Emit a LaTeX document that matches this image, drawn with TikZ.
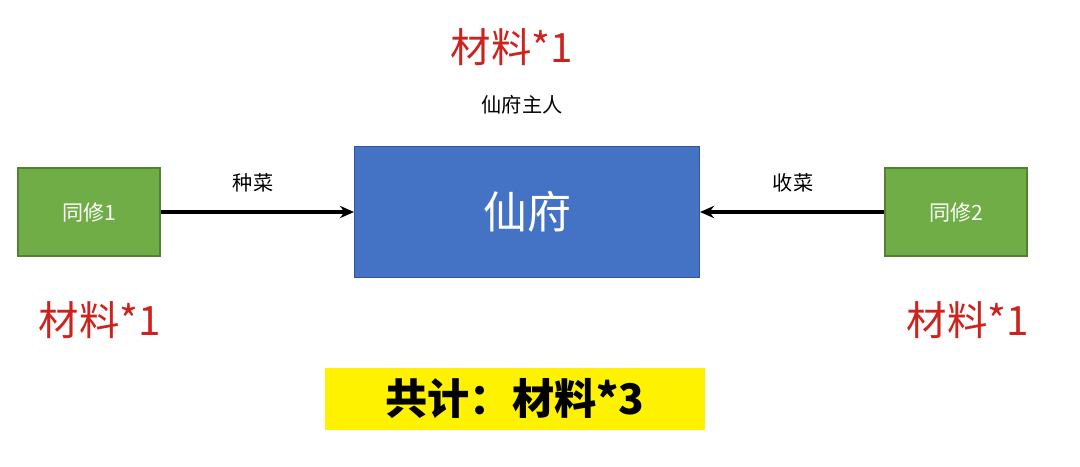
\documentclass[tikz,border=0pt]{standalone}
\usepackage{fontspec}
\setmainfont{Noto Sans CJK SC}
\usetikzlibrary{arrows.meta}
\definecolor{gbox}{RGB}{112,173,71}
\definecolor{gedge}{RGB}{80,130,50}
\definecolor{bbox}{RGB}{68,114,196}
\definecolor{bedge}{RGB}{50,85,150}
\definecolor{redt}{RGB}{205,35,30}
\begin{document}
\begin{tikzpicture}[x=0.02cm,y=-0.02cm,
  green/.style={draw=gedge,fill=gbox,line width=0.6pt,minimum width=142*0.02cm,minimum height=88*0.02cm,text=white,font=\fontsize{12}{14}\selectfont},
  red/.style={text=redt,font=\fontsize{23}{26}\selectfont},
  lab/.style={font=\fontsize{11.5}{13}\selectfont},
  arr/.style={-{Stealth[length=8pt,width=7pt]},line width=2pt}]
\useasboundingbox (0,0) rectangle (1080,467);
\node[green] (a) at (89,212) {同修1};
\node[green] (b) at (956,212) {同修2};
\node[draw=bedge,fill=bbox,line width=0.6pt,minimum width=345*0.02cm,minimum height=131*0.02cm,text=white,font=\fontsize{25}{28}\selectfont] (c) at (527,212) {仙府};
\draw[arr] (a) -- (c);
\draw[arr] (b) -- (c);
\node[lab] (l1) at (253,183) {种菜};
\node[lab] (l2) at (793,183) {收菜};
\node[red] (t1) at (512,47) {材料*1};
\node[lab] (o) at (522,105) {仙府主人};
\node[red] (t2) at (100,320) {材料*1};
\node[red] (t3) at (968,320) {材料*1};
\node[fill=yellow,minimum width=380*0.02cm,minimum height=62*0.02cm,font=\fontsize{24}{28}\selectfont\bfseries] (s) at (515,399) {共计：材料*3};
\end{tikzpicture}
\end{document}
